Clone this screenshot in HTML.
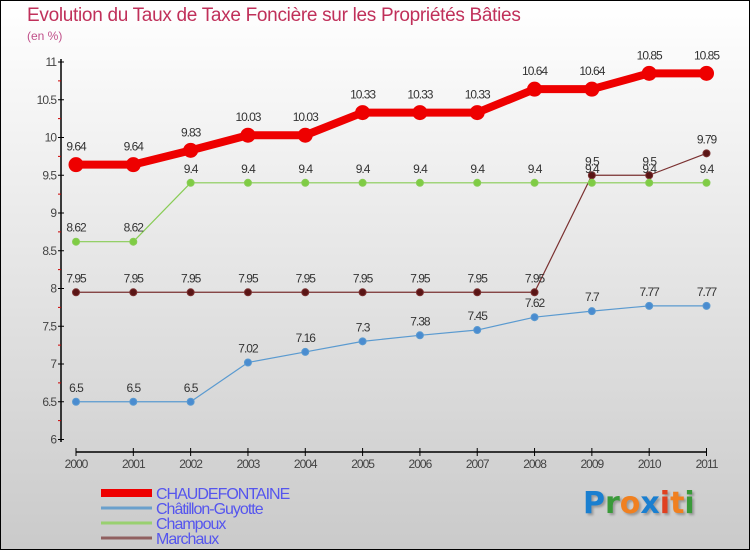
<!DOCTYPE html>
<html><head><meta charset="utf-8"><style>
body{margin:0}
#c{position:relative;width:748px;height:548px;border:1px solid #000;background:linear-gradient(#fff,#f2f2f2 25%,#cacaca);font-family:"Liberation Sans",sans-serif;overflow:hidden}
</style></head><body>
<div id="c">
<div style="position:absolute;left:26px;top:4px;font-size:19px;color:#c0305a;letter-spacing:-0.3px">Evolution du Taux de Taxe Foncière sur les Propriétés Bâties</div>
<div style="position:absolute;left:26px;top:28px;font-size:12px;color:#c0508a">(en %)</div>
<svg id="s" width="748" height="548" style="position:absolute;left:0;top:0"></svg>
<div style="position:absolute;left:582px;top:485px;font-size:30px;font-family:'DejaVu Sans',sans-serif;font-weight:bold;text-shadow:2px 2px 2px #999"><span style="color:#1a7fd0">P</span><span style="color:#3a9a3a">r</span><span style="color:#f08020">o</span><span style="color:#1a7fd0">x</span><span style="color:#e04020">i</span><span style="color:#f08020">t</span><span style="color:#3a9a3a">i</span></div>
</div>
<script>
const years=["2000","2001","2002","2003","2004","2005","2006","2007","2008","2009","2010","2011"];
const yTicks=[6,6.5,7,7.5,8,8.5,9,9.5,10,10.5,11];
const chaud=[9.64,9.64,9.83,10.03,10.03,10.33,10.33,10.33,10.64,10.64,10.85,10.85];
const chat=[6.5,6.5,6.5,7.02,7.16,7.3,7.38,7.45,7.62,7.7,7.77,7.77];
const champ=[8.62,8.62,9.4,9.4,9.4,9.4,9.4,9.4,9.4,9.4,9.4,9.4];
const marc=[7.95,7.95,7.95,7.95,7.95,7.95,7.95,7.95,7.95,9.5,9.5,9.79];
const names=["CHAUDEFONTAINE","Châtillon-Guyotte","Champoux","Marchaux"];
const NS="http://www.w3.org/2000/svg",s=document.getElementById('s');
const X=i=>75+i*(630.5/11), Y=v=>61+(11-v)*75.5;
function el(t,a,p){const e=document.createElementNS(NS,t);for(const k in a)e.setAttribute(k,a[k]);(p||s).appendChild(e);return e;}
let ax=el('line',{x1:60,y1:58,x2:60,y2:441,stroke:'#000','stroke-width':1.5});


let xa=el('line',{x1:75,y1:451,x2:706,y2:451,stroke:'#000','stroke-width':1.5});


yTicks.forEach(v=>{
 el('line',{x1:57,y1:Y(v),x2:63,y2:Y(v),stroke:Math.round(v)==v||v%1===0.5&&false?'#000':'#000'});
 if(v<11)el('line',{x1:57,y1:Y(v+0.25),x2:60,y2:Y(v+0.25),stroke:'#c00'});
 let t=el('text',{x:55,y:Y(v)+4,'text-anchor':'end','font-size':12,fill:'#444','letter-spacing':-1});
 t.textContent=String(v);
 
 
});
years.forEach((y,i)=>{
 el('line',{x1:X(i),y1:447,x2:X(i),y2:455,stroke:'#000'});
 let t=el('text',{x:X(i),y:467,'text-anchor':'middle','font-size':12,fill:'#444','letter-spacing':-1});
 t.textContent=y;
 
 
});
function series(d,col,w,r,fill,name,dy){
 const pl=el('polyline',{points:d.map((v,i)=>X(i)+','+Y(v)).join(' '),fill:'none',stroke:col,'stroke-width':w,'stroke-linejoin':'round'});
 
 
 d.forEach((v,i)=>{
  const c=el('circle',{cx:X(i),cy:Y(v),r:r,fill:fill,stroke:col,'stroke-width':1});
  
  
  const t=el('text',{x:X(i),y:Y(v)+dy,'text-anchor':'middle','font-size':12,fill:'#333','letter-spacing':-1});
  t.textContent=String(v);
  
  
 });
}
series(marc,'#7a3030',1.2,3.5,'#5a1515','marchaux',-10);
series(champ,'#88cc55',1.2,3.5,'#7fcc44','champoux',-10);
series(chat,'#5a9ad0',1.2,3.5,'#4a8cd0','chatillon-guyotte',-10);
series(chaud,'#ee0000',8,7,'#ee0000','chaudefontaine',-14);
const lc=['#ee0000','#6aa0cc','#99d070','#906060'],lw=[8,3,3,3];
names.forEach((n,i)=>{
 const y=492+i*15;
 el('line',{x1:100,y1:y,x2:151,y2:y,stroke:lc[i],'stroke-width':lw[i]});
 const t=el('text',{x:155,y:y+6,'font-size':16,fill:'#5555ee','letter-spacing':-1});
 t.textContent=n;
 
 
});
</script>
</body></html>
